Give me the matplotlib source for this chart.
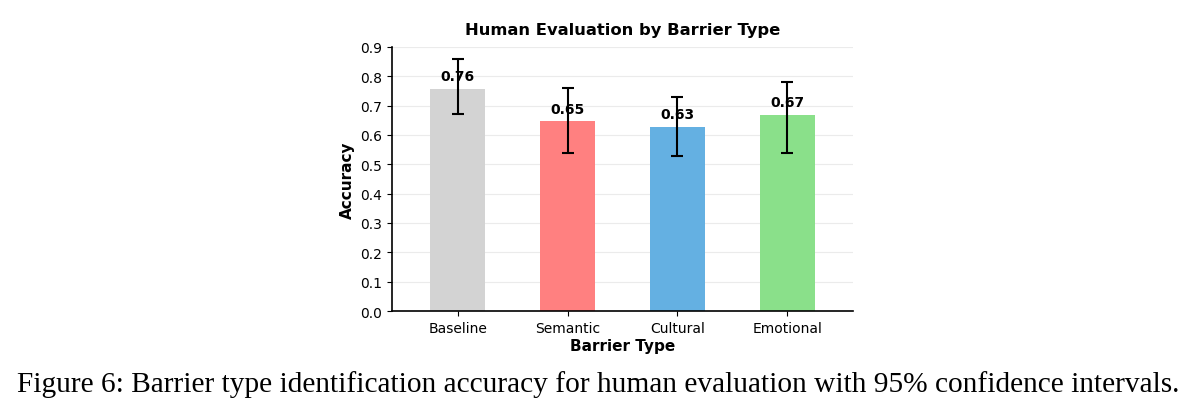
import matplotlib.pyplot as plt
import numpy as np

categories = ['Baseline', 'Semantic', 'Cultural', 'Emotional']
accuracy = [0.757, 0.646, 0.628, 0.667]
ci_low = [0.672, 0.540, 0.530, 0.540]
ci_high = [0.860, 0.760, 0.730, 0.780]
colors = ['#d3d3d3', '#ff8080', '#64b0e2', '#8ae08a']

fig = plt.figure(figsize=(11.96, 4.10), dpi=100)
ax = fig.add_axes([0.3278, 0.239, 0.3854, 0.644])

x = np.arange(len(categories))
acc = np.array(accuracy)
yerr = np.array([acc - np.array(ci_low), np.array(ci_high) - acc])
ax.bar(x, acc, width=0.5, color=colors, zorder=2)
ax.errorbar(x, acc, yerr=yerr, fmt='none', ecolor='black', capsize=4, elinewidth=1.5, capthick=1.5, zorder=3)

for xi, v in zip(x, acc):
    ax.text(xi, v + 0.02, f'{v:.2f}', ha='center', va='bottom', fontsize=10, fontweight='bold', zorder=4)

ax.set_xlim(-0.6, 3.6)
ax.set_ylim(0, 0.9)
ax.set_yticks(np.arange(0, 0.91, 0.1))
ax.set_xticks(x)
ax.set_xticklabels(categories)
ax.tick_params(labelsize=10)
ax.yaxis.grid(True, color='#ebebeb', linewidth=0.8, zorder=0)
ax.set_axisbelow(True)
for s in ['top', 'right']:
    ax.spines[s].set_visible(False)
ax.spines['left'].set_linewidth(1.2)
ax.spines['bottom'].set_linewidth(1.2)

ax.set_title('Human Evaluation by Barrier Type', fontsize=11.8, fontweight='bold', pad=9)
ax.set_xlabel('Barrier Type', fontsize=11, fontweight='bold', labelpad=2)
ax.set_ylabel('Accuracy', fontsize=11, fontweight='bold')

fig.text(0.5, 0.063, 'Figure 6: Barrier type identification accuracy for human evaluation with 95% confidence intervals.',
         ha='center', va='center', fontsize=21.2, family='Liberation Serif')

fig.savefig('out.png', dpi=100)
